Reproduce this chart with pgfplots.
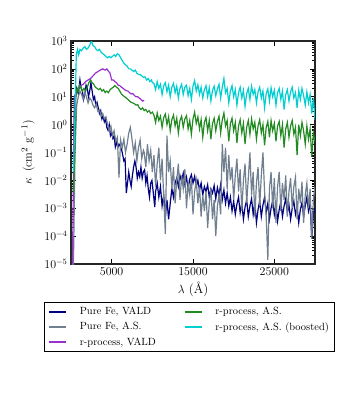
\documentclass[border=0pt]{standalone}
\usepackage{pgfplots}
\usepackage{pgfplotstable}
\pgfplotsset{compat=1.18}
\definecolor{cnavy}{RGB}{0,0,128}
\definecolor{cgray}{RGB}{112,128,144}
\definecolor{cpurple}{RGB}{153,50,204}
\definecolor{cgreen}{RGB}{34,139,34}
\definecolor{ccyan}{RGB}{0,206,209}

\pgfplotstableread{
x y
300 1e-1
500 6.3
700 20
900 12.6
1100 40
1250 20
1400 16
1550 8
1700 12.6
1850 26
2000 20
2150 10
2300 16
2450 32
2600 16
2750 8
2900 10
3050 5
3200 6.3
3350 4
3500 2.5
3650 3.2
3800 1.6
3950 2
4100 1.26
4250 1.6
4400 0.8
4550 0.63
4700 1.0
4850 0.4
5000 0.5
5150 0.32
5300 0.4
5450 0.16
5600 0.25
5750 0.15
5900 0.2
6100 0.16
6300 0.1
6500 0.05
6650 0.06
6800 0.0035
6950 0.008
7100 0.02
7250 0.01
7400 0.006
7550 0.015
7700 0.03
7850 0.05
8000 0.03
8150 0.012
8300 0.02
8450 0.0135
8600 0.03
8750 0.012
8900 0.02
9050 0.024
9200 0.008
9350 0.015
9500 0.005
9650 0.0025
9800 0.008
9950 0.01
10100 0.004
10300 0.0011
10400 4e-3
10600 8e-3
10800 2.5e-3
11000 6e-3
11200 1.2e-3
11400 3e-3
11600 5e-4
11800 2e-3
12000 4e-4
12200 1.5e-3
12400 5e-3
12600 2.5e-3
12800 8e-3
13000 1.2e-2
13200 6e-3
13400 1.5e-2
13600 9e-3
13800 1.8e-2
14000 7e-3
14200 1.3e-2
14400 5e-3
14600 1.1e-2
14800 1.6e-2
15000 8e-3
15200 1.4e-2
15400 6e-3
15600 1.0e-2
15800 4.5e-3
16000 8e-3
16200 3e-3
16400 6e-3
16600 4e-3
16800 7e-3
17000 2.5e-3
17200 5e-3
17400 3.5e-3
17600 6.5e-3
17800 2.2e-3
18000 5.5e-3
18200 3e-3
18400 7e-3
18600 2e-3
18800 4.5e-3
19000 1.5e-3
19200 3.5e-3
19400 1.2e-3
19600 2.5e-3
19800 8e-4
20000 1.8e-3
20200 6e-4
20400 1.4e-3
20600 2.5e-3
20800 7e-4
21000 1.5e-3
21200 4e-4
21400 1.1e-3
21600 2e-3
21800 5e-4
22000 1.2e-3
22200 2.2e-3
22400 6e-4
22600 1.6e-3
22800 3e-4
23000 9e-4
23200 1.8e-3
23400 5e-4
23600 1.3e-3
23800 2.5e-3
24000 7e-4
24200 1.5e-3
24400 4e-4
24600 1.0e-3
24800 1.9e-3
25000 6e-4
25200 1.4e-3
25400 3.5e-4
25600 9e-4
25800 1.7e-3
26000 5e-4
26200 1.2e-3
26400 2.2e-3
26600 7e-4
26800 1.3e-3
27000 4e-4
27200 1.0e-3
27400 1.8e-3
27600 6e-4
27800 1.1e-3
28000 3e-4
28200 9e-4
28400 1.6e-3
28600 5e-4
28800 1.2e-3
29000 2.5e-3
29200 8e-4
29400 1.5e-3
29600 8e-5
29800 6e-4
30000 1.0e-3
}\fevald

\pgfplotstableread{
x y
250 1e-6
500 1e-1
700 5
900 10
1100 16
1300 12
1500 8
1700 14
1900 10
2100 6
2300 9
2500 7.5
2700 5
2900 4
3100 5.5
3300 3
3500 3.4
3700 2
3900 2.5
4100 1.6
4300 1.9
4500 1
4700 0.65
4900 0.9
5100 0.4
5300 0.6
5500 0.25
5700 0.35
5900 0.0126
6100 0.28
6300 0.15
6500 0.3
6700 0.1
6900 0.2
7100 0.5
7300 0.8
7500 0.3
7700 0.1
7900 0.22
8100 0.05
8300 0.15
8500 0.28
8700 0.06
8900 0.12
9000 1e-1
9200 3e-2
9400 2e-1
9600 5e-2
9800 1.2e-1
10000 2e-2
10200 8e-2
10400 6e-3
10600 4e-2
10800 1.5e-1
11000 1e-2
11200 6e-2
11400 2.5e-3
11600 1.2e-4
11800 4e-1
12000 2e-2
12200 5e-2
12400 5e-3
12600 3e-2
12800 1.5e-3
13000 1e-2
13200 4e-2
13400 2e-3
13600 1.5e-2
13800 5e-3
14000 2.5e-2
14200 1e-3
14400 8e-3
14600 3e-3
14800 1.2e-2
15000 6e-4
15200 4e-3
15400 1e-2
15600 1.5e-3
15800 6e-3
16000 5e-4
16200 3e-3
16400 8e-4
16600 4e-3
16800 2e-4
17000 1.5e-3
17200 5e-3
17400 4e-4
17600 2e-3
17800 1e-4
18000 1.2e-3
18200 3e-3
18400 6e-4
18600 2e-1
18800 2e-2
19000 1.5e-1
19200 5e-3
19400 8e-2
19600 1e-2
19800 3e-2
20000 2e-3
20200 1.5e-2
20400 6e-2
20600 4e-3
20800 2.5e-2
21000 8e-4
21200 1e-2
21400 4e-2
21600 1.5e-3
21800 1.2e-2
22000 1e-1
22200 3e-3
22400 2e-2
22600 5e-4
22800 8e-3
23000 3e-2
23200 1.2e-3
23400 1.5e-2
23600 1e-1
23800 4e-3
24000 5e-4
24200 1.4e-5
24400 5e-3
24600 2e-2
24800 1e-3
25000 1.2e-2
25200 3e-4
25400 6e-3
25600 2e-2
25800 8e-4
26000 8e-3
26200 2e-3
26400 1.5e-2
26600 5e-4
26800 4e-3
27000 1.2e-2
27200 1e-3
27400 6e-3
27600 1.3e-2
27800 4e-4
28000 5e-3
28200 1.5e-3
28400 9e-3
28600 3e-4
28800 3e-3
29000 8e-3
29200 1e-3
29400 5e-3
29600 8e-5
29800 2e-3
30000 6e-3
}\feas

\pgfplotstableread{
x y
150 1e-6
400 10
700 16
1000 20
1200 25
1500 28
1800 35
2100 40
2400 45
2700 56
3000 70
3300 80
3600 90
3900 100
4200 90
4400 100
4600 83
4800 70
5000 40
5200 40
5400 35
5600 32
5800 26
6000 25
6200 22
6400 20
6600 18
6800 16.6
7000 16
7200 14
7400 12.6
7600 13
7800 11
8000 10
8200 10
8400 9
8600 8
8800 7
9000 7.5
}\rvald

\pgfplotstableread{
x y
300 3.5e-3
450 0.1
600 10
750 20
900 16
1050 26
1200 22
1400 16
1600 20
1800 16
2000 22
2200 32
2400 40
2600 32
2800 28
3000 22
3200 20
3400 18
3600 20
3800 16
4000 18
4200 14
4400 16
4600 14
4800 18
5000 20
5200 22
5400 25
5600 22
5800 20
6000 16
6200 12.6
6400 11
6600 10
6800 9
7000 8
7200 7
7400 6.3
7600 6
7800 5.6
8000 5
8200 5.2
8400 4
8600 3.5
8800 4
9000 3.2
9200 3.5
9400 2.8
9600 3.2
9800 2.5
10000 2.8
10200 2.2
10400 1.2
10600 2.6
10800 1.4
11000 2.0
11200 0.8
11400 1.8
11600 2.4
11800 1.0
12000 1.9
12200 0.6
12400 1.5
12600 2.2
12800 0.9
13000 1.7
13200 0.5
13400 1.4
13600 2.0
13800 0.8
14000 1.6
14200 2.1
14400 0.7
14600 1.4
14800 0.45
15000 1.6
15200 2.8
15400 1.1
15600 1.9
15800 0.7
16000 1.5
16200 0.35
16400 1.2
16600 1.8
16800 0.6
17000 1.4
17200 0.3
17400 1.1
17600 1.7
17800 0.6
18000 1.3
18200 2.0
18400 0.5
18600 1.5
18800 2.6
19000 0.9
19200 1.4
19400 0.25
19600 1.1
19800 1.7
20000 0.6
20200 1.2
20400 0.22
20600 0.9
20800 1.5
21000 0.5
21200 1.1
21400 0.2
21600 0.8
21800 1.4
22000 0.45
22200 1.6
22400 0.7
22600 1.2
22800 0.3
23000 0.9
23200 1.5
23400 0.5
23600 1.0
23800 0.18
24000 0.8
24200 1.3
24400 0.35
24600 1.4
24800 0.6
25000 1.1
25200 0.25
25400 0.9
25600 1.3
25800 0.4
26000 1.0
26200 0.15
26400 0.7
26600 1.2
26800 0.35
27000 0.9
27200 1.4
27400 0.45
27600 0.8
27800 0.08
28000 1.0
28200 0.4
28400 1.2
28600 0.6
28800 0.2
29000 0.9
29200 0.3
29400 0.7
29600 0.07
29800 0.5
30000 0.25
}\ras

\pgfplotstableread{
x y
300 0.02
500 3.2
650 3.2e2
800 5e2
950 3.2e2
1100 5e2
1300 4.5e2
1500 5.6e2
1700 6.3e2
1900 5e2
2100 5.6e2
2300 7e2
2500 1e3
2700 7e2
2900 6.3e2
3100 5e2
3300 4.5e2
3500 5e2
3700 4e2
3900 3.5e2
4100 3.2e2
4300 2.8e2
4500 2.5e2
4700 2.8e2
4900 2.5e2
5100 2.8e2
5300 3.2e2
5500 2.8e2
5700 3.5e2
5900 3.2e2
6100 2.5e2
6300 2e2
6500 1.6e2
6700 1.4e2
6900 1.26e2
7100 1e2
7300 1e2
7500 9e1
7700 8e1
7900 9e1
8100 7e1
8300 6.3e1
8500 6.3e1
8700 5.6e1
8900 5e1
9100 5.2e1
9300 4e1
9500 4.5e1
9700 3.5e1
9900 4e1
10000 3.2e1
10200 30
10400 18
10600 35
10800 20
11000 28
11200 12
11400 25
11600 32
11800 15
12000 26
12200 10
12400 22
12600 30
12800 14
13000 24
13200 9
13400 20
13600 28
13800 12
14000 22
14200 26
14400 11
14600 20
14800 8
15000 24
15200 38
15400 16
15600 27
15800 12
16000 22
16200 9
16400 18
16600 25
16800 10
17000 21
17200 7
17400 17
17600 24
17800 11
18000 19
18200 28
18400 9
18600 22
18800 45
19000 14
19200 20
19400 6
19600 16
19800 25
20000 10
20200 18
20400 5
20600 14
20800 22
21000 9
21200 17
21400 4.5
21600 13
21800 20
22000 8
22200 24
22400 12
22600 18
22800 6
23000 15
23200 22
23400 9
23600 16
23800 4
24000 13
24200 19
24400 7
24600 21
24800 10
25000 17
25200 5
25400 14
25600 20
25800 8
26000 16
26200 3.5
26400 12
26600 18
26800 7
27000 15
27200 22
27400 9
27600 14
27800 4
28000 17
28200 8
28400 20
28600 11
28800 5
29000 15
29200 6
29400 12
29600 2.5
29800 9
30000 1.5
}\rasb

\begin{document}
\begin{tikzpicture}
\path[use as bounding box] (-71bp,-136bp) rectangle (279bp,264bp);
\begin{axis}[
  at={(0,0)}, anchor=south west,
  scale only axis, width=244bp, height=223bp,
  xmin=0, xmax=30000, ymode=log, ymin=1e-5, ymax=1e3,
  xtick={5000,15000,25000},
  ytick={1e-5,1e-4,1e-3,1e-2,1e-1,1,1e1,1e2,1e3},
  scaled x ticks=false,
  xticklabel style={/pgf/number format/.cd,1000 sep={}},
  tick label style={font=\fontsize{11.5}{13}\selectfont},
  label style={font=\fontsize{13}{15}\selectfont},
  xlabel={$\lambda$ (\AA)},
  ylabel={$\kappa\ \,(\mathrm{cm}^2\ \mathrm{g}^{-1})$},
  ylabel style={yshift=3bp},
  axis line style={line width=1.1pt, black!85},
  major tick length=5bp, minor tick length=2.8bp,
  every tick/.style={black, line width=0.7pt},
  legend columns=2,
  legend cell align=left,
  legend style={at={(-0.111,-0.17)}, anchor=north west, draw=black, line width=0.9pt,
    font=\fontsize{10.5}{12.5}\selectfont,
    inner xsep=4bp, inner ysep=3bp,
    /tikz/every odd column/.append style={column sep=11bp},
    /tikz/every even column/.append style={column sep=26bp},
    row sep=2pt},
]
\addplot[cnavy, line width=1.2pt, forget plot] table {\fevald};
\addplot[cgray, line width=1.2pt, forget plot] table {\feas};
\addplot[cpurple, line width=1.2pt, forget plot] table {\rvald};
\addplot[cgreen, line width=1.2pt, forget plot] table {\ras};
\addplot[ccyan, line width=1.2pt, forget plot] table {\rasb};
\addlegendimage{cnavy, line width=1.5pt}
\addlegendentry{Pure Fe, VALD}
\addlegendimage{cgreen, line width=1.5pt}
\addlegendentry{r-process, A.S.}
\addlegendimage{cgray, line width=1.5pt}
\addlegendentry{Pure Fe, A.S.}
\addlegendimage{ccyan, line width=1.5pt}
\addlegendentry{r-process, A.S. (boosted)}
\addlegendimage{cpurple, line width=1.5pt}
\addlegendentry{r-process, VALD}
\end{axis}
\end{tikzpicture}
\end{document}
